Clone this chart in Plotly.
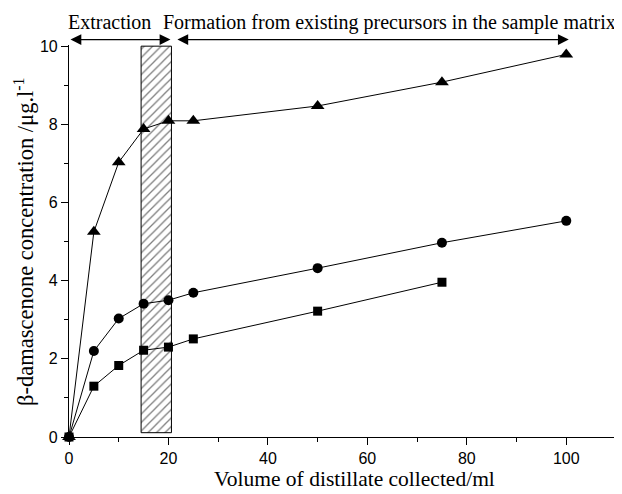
import plotly.graph_objects as go

# Data
volume_tri = [0, 5, 10, 15, 20, 25, 50, 75, 100]
conc_tri = [0, 5.25, 7.03, 7.88, 8.09, 8.09, 8.47, 9.08, 9.79]

volume_circ = [0, 5, 10, 15, 20, 25, 50, 75, 100]
conc_circ = [0, 2.20, 3.03, 3.41, 3.50, 3.69, 4.32, 4.97, 5.53]

volume_sq = [0, 5, 10, 15, 20, 25, 50, 75]
conc_sq = [0, 1.30, 1.83, 2.22, 2.30, 2.51, 3.22, 3.96]

# Hatched zone (volume range and concentration range)
zone_x = [14.5, 20.6]
zone_y = [0.11, 10.0]

# Arrow ranges
extraction_range = [0, 20.4]
formation_range = [21.5, 100.5]
arrow_level = 10.17

x_ticks = [0, 20, 40, 60, 80, 100]
y_ticks = [0, 2, 4, 6, 8, 10]
x_range = [0, 110]
y_range = [0, 10.03]

serif = "Liberation Serif, Times New Roman, serif"
sans = "Liberation Sans, Arial, sans-serif"

fig = go.Figure()

fig.add_trace(go.Scatter(
    x=[zone_x[0], zone_x[1], zone_x[1], zone_x[0], zone_x[0]],
    y=[zone_y[0], zone_y[0], zone_y[1], zone_y[1], zone_y[0]],
    mode="lines", fill="toself",
    line=dict(color="black", width=1),
    fillcolor="white",
    fillpattern=dict(shape="/", fgcolor="black", bgcolor="white", size=6, solidity=0.22),
    showlegend=False, hoverinfo="skip",
))

for xs, ys, sym, sz in [(volume_tri, conc_tri, "triangle-up", 12),
                        (volume_circ, conc_circ, "circle", 10),
                        (volume_sq, conc_sq, "square", 9)]:
    fig.add_trace(go.Scatter(
        x=xs, y=ys, mode="lines+markers",
        line=dict(color="black", width=1),
        marker=dict(symbol=sym, size=sz, color="black"),
        cliponaxis=False, showlegend=False,
    ))

arrow_paper_y = arrow_level / y_range[1]
annotations = []
for rng in (extraction_range, formation_range):
    annotations.append(dict(
        x=rng[1], y=arrow_paper_y, ax=rng[0], ay=0,
        xref="x", yref="paper", axref="x", ayref="pixel",
        text="", showarrow=True, arrowhead=2, arrowside="end+start",
        arrowsize=1.8, arrowwidth=1.2, arrowcolor="black", standoff=0, startstandoff=0,
    ))

annotations.append(dict(x=8.2, xref="x", y=1, yref="paper",
                        yshift=23, text="Extraction", showarrow=False,
                        font=dict(family=serif, size=20, color="black"), yanchor="middle"))
annotations.append(dict(x=(618 - 69) / 547, xref="paper", y=1, yref="paper", yshift=23,
                        text="Formation from existing precursors in the sample matrix",
                        showarrow=False, xanchor="right",
                        font=dict(family=serif, size=20, color="black"), yanchor="middle"))
annotations.append(dict(x=(354 - 69) / 547, xref="paper", y=0, yref="paper", showarrow=False,
                        yshift=-42, yanchor="middle",
                        text="Volume of distillate collected/ml",
                        font=dict(family=serif, size=21.5, color="black")))
annotations.append(dict(x=(24 - 69) / 547, xref="paper", y=(437 - 242) / 392, yref="paper", showarrow=False,
                        textangle=-90, xanchor="center", yanchor="middle",
                        text="β-damascenone concentration /μg.l<sup>-1</sup>",
                        font=dict(family=serif, size=22.5, color="black")))

axis_common = dict(ticks="outside", ticklen=7, tickwidth=1.2, tickcolor="black",
                   showline=True, linecolor="black", linewidth=1.2, showgrid=False, zeroline=False,
                   tickfont=dict(family=sans, size=16, color="black"), automargin=False)

# The page body adds an 8 px margin, so the figure is 8 px smaller in each direction
fig.update_layout(
    width=614, height=486,
    margin=dict(l=61, r=6, t=37, b=57, autoexpand=False),
    paper_bgcolor="white", plot_bgcolor="white",
    annotations=annotations,
    xaxis=dict(range=x_range, tickvals=x_ticks,
               minor=dict(dtick=10, tick0=0, ticks="outside", ticklen=4, tickwidth=1.2, tickcolor="black"),
               **axis_common),
    yaxis=dict(range=y_range, tickvals=y_ticks,
               minor=dict(dtick=1, tick0=0, ticks="outside", ticklen=4, tickwidth=1.2, tickcolor="black"),
               **axis_common),
)

fig.write_html("out.html")
